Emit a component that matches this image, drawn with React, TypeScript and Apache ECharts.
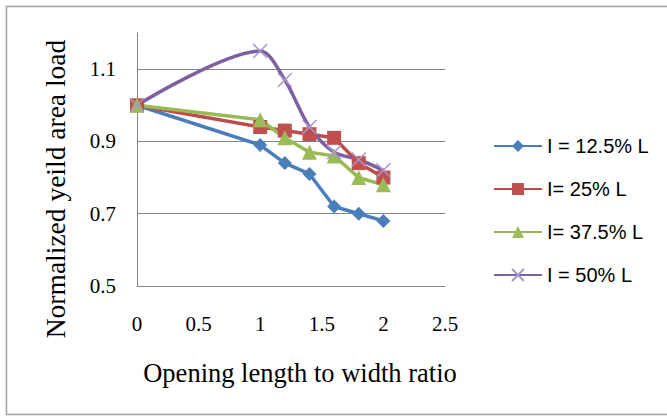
import React, { useEffect, useRef } from "react";
import * as echarts from "echarts";

const ratios = [0, 1, 1.2, 1.4, 1.6, 1.8, 2];
const seriesNames = ["I = 12.5% L", "I= 25% L", "I= 37.5% L", "I = 50% L"];
const l125 = [1.0, 0.89, 0.84, 0.81, 0.72, 0.7, 0.68];
const l25 = [1.0, 0.94, 0.93, 0.92, 0.91, 0.84, 0.8];
const l375 = [1.0, 0.96, 0.91, 0.87, 0.86, 0.8, 0.78];
const l50 = [1.0, 1.15, 1.07, 0.94, 0.87, 0.85, 0.82];
const yTickLabels = [0.5, 0.7, 0.9, 1.1];
const xTitle = "Opening length to width ratio";
const yTitle = "Normalized yeild area load";

const pair = (ys: number[]) => ratios.map((x, i) => [x, ys[i]]);

export default function App() {
  const ref = useRef<HTMLDivElement>(null);
  useEffect(() => {
    if (!ref.current) return;
    const chart = echarts.init(ref.current, null, { renderer: "svg" });
    const serif = "Liberation Serif";
    const sans = "Liberation Sans";
    const colors = ["#4A7EBB", "#BE4B48", "#98B954", "#7D60A0"];
    chart.setOption({
      animation: false,
      backgroundColor: "#ffffff",
      grid: { left: 137, right: 222, top: 33, bottom: 131 },
      graphic: [
        {
          type: "rect",
          shape: { x: 6.5, y: 6.5, width: 700, height: 408 },
          style: { fill: "none", stroke: "#a0a0a0", lineWidth: 1.5 },
          silent: true,
          z: -10,
        },
        {
          type: "text",
          x: 300,
          y: 373,
          style: {
            text: xTitle,
            font: `26.5px "${serif}"`,
            fill: "#000",
            align: "center",
            verticalAlign: "middle",
          },
        },
        {
          type: "text",
          x: 55,
          y: 189,
          rotation: Math.PI / 2,
          style: {
            text: yTitle,
            font: `27.5px "${serif}"`,
            fill: "#000",
            align: "center",
            verticalAlign: "middle",
          },
        },
      ],
      legend: {
        orient: "vertical",
        left: 493,
        top: 136,
        padding: 0,
        itemWidth: 48,
        itemHeight: 15,
        itemGap: 23,
        textStyle: { fontFamily: sans, fontSize: 20, color: "#000", lineHeight: 20 },
        data: seriesNames,
      },
      xAxis: {
        type: "value",
        min: 0,
        max: 2.5,
        interval: 0.5,
        axisLine: { show: true, lineStyle: { color: "#868686", width: 1 } },
        axisTick: { show: false },
        splitLine: { show: false },
        axisLabel: { fontFamily: serif, fontSize: 21, color: "#000", margin: 27 },
      },
      yAxis: {
        type: "value",
        min: 0.5,
        max: 1.2,
        interval: 0.1,
        axisLine: { show: true, lineStyle: { color: "#868686", width: 1 } },
        axisTick: { show: false },
        splitLine: {
          show: true,
          lineStyle: { color: ["#868686", "rgba(0,0,0,0)"], width: 1 },
        },
        axisLabel: {
          fontFamily: serif,
          fontSize: 21,
          color: "#000",
          margin: 21,
          formatter: (v: number) => {
            const hit = yTickLabels.find((t) => Math.abs(t - v) < 1e-6);
            return hit !== undefined ? hit.toFixed(1) : "";
          },
        },
      },
      series: [
        {
          name: seriesNames[0],
          type: "line",
          data: pair(l125),
          symbol: "diamond",
          symbolSize: 14,
          lineStyle: { color: colors[0], width: 3.5 },
          itemStyle: { color: colors[0] },
        },
        {
          name: seriesNames[1],
          type: "line",
          data: pair(l25),
          symbol: "rect",
          symbolSize: 14,
          lineStyle: { color: colors[1], width: 3.5 },
          itemStyle: { color: "#C0504D" },
        },
        {
          name: seriesNames[2],
          type: "line",
          data: pair(l375),
          symbol: "triangle",
          symbolSize: 15,
          lineStyle: { color: colors[2], width: 3.5 },
          itemStyle: { color: "#9BBB59" },
        },
        {
          name: seriesNames[3],
          type: "line",
          data: pair(l50),
          smooth: 0.3,
          symbol: "path://M0,0L10,10M10,0L0,10",
          symbolSize: 14,
          lineStyle: { color: colors[3], width: 3.5 },
          itemStyle: { color: "#A896CC", borderColor: "#A896CC", borderWidth: 1.5 },
        },
      ],
    });
    return () => chart.dispose();
  }, []);
  return (
    <div
      ref={ref}
      style={{ position: "absolute", left: 0, top: 0, width: 667, height: 417 }}
    />
  );
}
